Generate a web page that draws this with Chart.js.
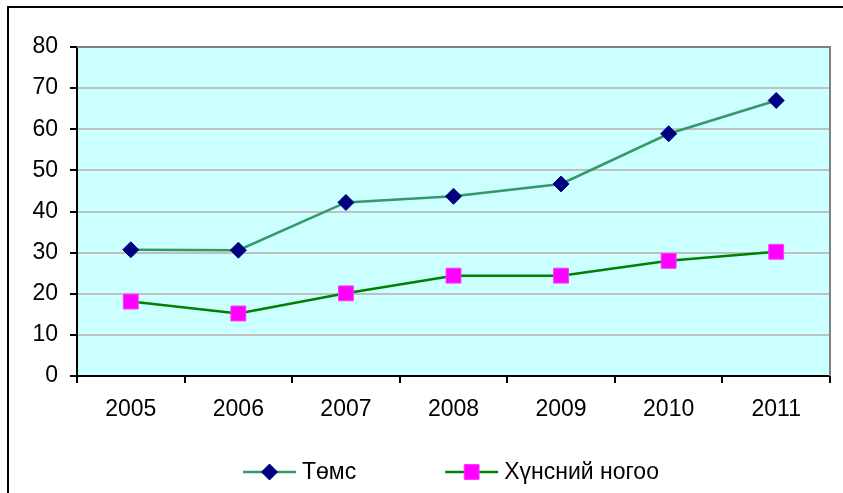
<!DOCTYPE html>
<html>
<head>
<meta charset="utf-8">
<script src="https://cdn.jsdelivr.net/npm/chart.js@4/dist/chart.umd.min.js"></script>
<style>
    html, body { margin: 0; padding: 0; background: #ffffff; overflow: hidden; }
    #wrap { width: 843px; height: 493px; position: relative; }
</style>
</head>
<body>
<div id="wrap"><canvas id="lineChart" width="843" height="493"></canvas></div>
<script>
// Data
const years = ['2005', '2006', '2007', '2008', '2009', '2010', '2011'];
const potatoValues = [30.7, 30.6, 42.2, 43.7, 46.7, 58.9, 67.0];
const vegetableValues = [18.1, 15.2, 20.1, 24.4, 24.4, 28.0, 30.2];
const yTicks = [0, 10, 20, 30, 40, 50, 60, 70, 80];
const seriesNames = ['Төмс', 'Хүнсний ногоо'];

const fontFamily = '"Liberation Sans", Arial, sans-serif';
const fontSize = 23;

// Cyan plot background, gray top/right frame and outer black border
const frameBackground = {
    id: 'frameBackground',
    beforeDraw(chart) {
        const ctx = chart.ctx;
        const a = chart.chartArea;
        ctx.save();
        ctx.fillStyle = '#ffffff';
        ctx.fillRect(0, 0, chart.width, chart.height);
        ctx.strokeStyle = '#000000';
        ctx.lineWidth = 2;
        ctx.strokeRect(8, 7, chart.width + 20, chart.height + 20);
        ctx.fillStyle = '#ccffff';
        ctx.fillRect(a.left, a.top, a.right - a.left, a.bottom - a.top);
        ctx.restore();
    },
    beforeDatasetsDraw(chart) {
        const ctx = chart.ctx;
        const a = chart.chartArea;
        ctx.save();
        ctx.strokeStyle = '#808080';
        ctx.lineWidth = 2;
        ctx.beginPath();
        ctx.moveTo(a.left, a.top);
        ctx.lineTo(a.right, a.top);
        ctx.lineTo(a.right, a.bottom);
        ctx.stroke();
        ctx.restore();
    }
};

// Excel style legend: line segment with marker, then the name
const lineLegend = {
    id: 'lineLegend',
    afterDraw(chart) {
        const ctx = chart.ctx;
        const y = 472;
        let x = 243;
        ctx.save();
        ctx.font = fontSize + 'px ' + fontFamily;
        ctx.textBaseline = 'middle';
        chart.data.datasets.forEach(function(ds) {
            ctx.strokeStyle = ds.borderColor;
            ctx.lineWidth = ds.borderWidth;
            ctx.beginPath();
            ctx.moveTo(x, y);
            ctx.lineTo(x + 53, y);
            ctx.stroke();
            ctx.fillStyle = ds.pointBackgroundColor;
            ctx.strokeStyle = ds.pointBorderColor;
            ctx.lineWidth = ds.pointBorderWidth;
            Chart.helpers.drawPoint(ctx, {
                pointStyle: ds.pointStyle,
                radius: ds.pointRadius,
                rotation: 0,
                borderWidth: ds.pointBorderWidth
            }, x + 26.5, y);
            ctx.fillStyle = '#000000';
            ctx.fillText(ds.label, x + 59, y + 1);
            x += 59 + ctx.measureText(ds.label).width + 89;
        });
        ctx.restore();
    }
};

const ctx = document.getElementById('lineChart');
new Chart(ctx.getContext('2d'), {
    type: 'line',
    data: {
        labels: years,
        datasets: [
            {
                label: seriesNames[0],
                data: potatoValues,
                borderColor: '#339966',
                borderWidth: 2.5,
                pointStyle: 'rectRot',
                pointRadius: 8,
                pointBackgroundColor: '#000080',
                pointBorderColor: '#000080',
                pointBorderWidth: 1,
                tension: 0
            },
            {
                label: seriesNames[1],
                data: vegetableValues,
                borderColor: '#008000',
                borderWidth: 2.5,
                pointStyle: 'rect',
                pointRadius: 10.5,
                pointBackgroundColor: '#ff00ff',
                pointBorderColor: '#ff33ff',
                pointBorderWidth: 1,
                tension: 0
            }
        ]
    },
    options: {
        responsive: false,
        animation: false,
        layout: {
            padding: { left: 0, top: 47, right: 13, bottom: 0 }
        },
        plugins: {
            legend: { display: false },
            tooltip: { enabled: false }
        },
        scales: {
            x: {
                offset: true,
                afterFit: function(scale) { scale.height = 117; },
                grid: {
                    offset: true,
                    drawOnChartArea: false,
                    drawTicks: true,
                    tickLength: 7,
                    tickColor: '#000000',
                    lineWidth: 2
                },
                border: { color: '#000000', width: 2 },
                ticks: {
                    color: '#000000',
                    padding: 13,
                    maxRotation: 0,
                    font: { family: fontFamily, size: fontSize }
                }
            },
            y: {
                min: 0,
                max: 80,
                afterFit: function(scale) { scale.width = 77; },
                afterBuildTicks: function(scale) {
                    scale.ticks = yTicks.map(function(v) { return { value: v }; });
                },
                grid: {
                    color: function(c) { return c.tick && c.tick.value === 80 ? '#808080' : '#c0c0c0'; },
                    lineWidth: 2,
                    tickLength: 7,
                    tickColor: '#000000'
                },
                border: { color: '#000000', width: 2 },
                ticks: {
                    color: '#000000',
                    padding: 12,
                    font: { family: fontFamily, size: fontSize }
                }
            }
        }
    },
    plugins: [frameBackground, lineLegend]
});
</script>
</body>
</html>
